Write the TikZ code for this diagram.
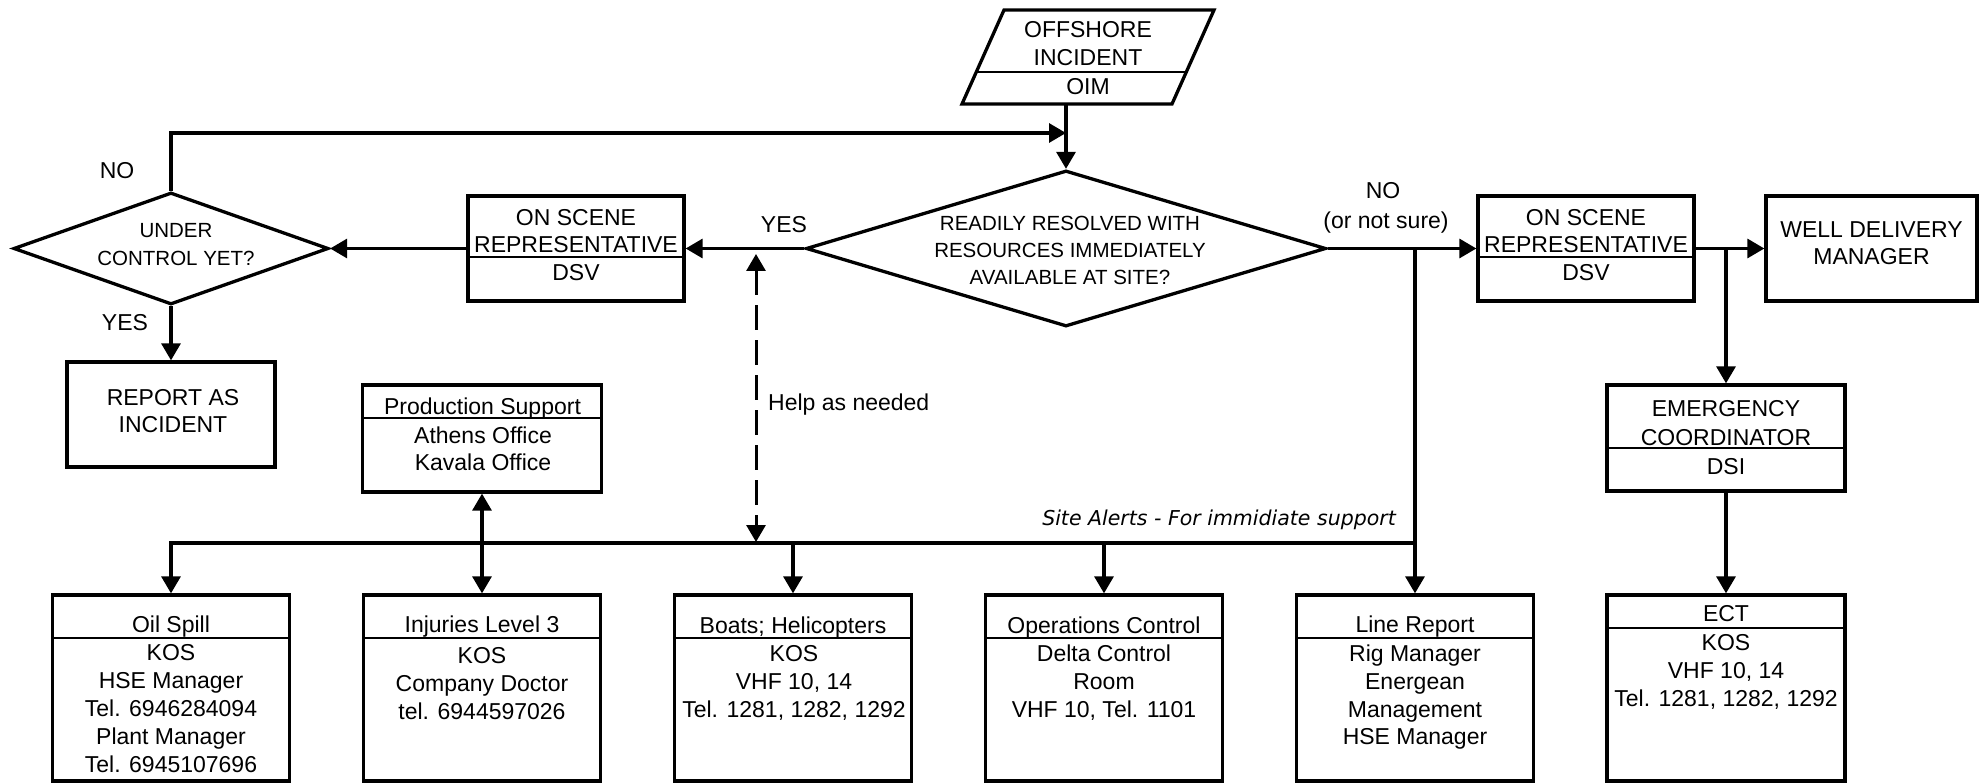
\documentclass[tikz,border=0pt]{standalone}
\usepackage{fontspec}
\setmainfont{Liberation Sans}
\newfontfamily\notefont{DejaVu Sans}
\usetikzlibrary{arrows.meta,shapes.geometric}

\begin{document}
\begin{tikzpicture}[x=1pt, y=-1pt,
  frame/.style={draw, line width=3.3pt, inner sep=0pt, line join=miter},
  boxshape/.style 2 args={frame, rectangle, minimum width=#1, minimum height=#2},
  decision/.style 2 args={frame, diamond, minimum width=#1, minimum height=#2},
  divider/.style={line width=2pt},
  txt/.style={inner sep=0pt, align=center, anchor=north, font=\fontsize{23}{#1}\selectfont},
  txt/.default=27,
  dtxt/.style={inner sep=0pt, align=center, anchor=north, font=\fontsize{20.5}{#1}\selectfont},
  dtxt/.default=27,
  lbl/.style={inner sep=0pt, anchor=base, font=\fontsize{23}{27}\selectfont},
  tip/.style={},
  arr/.style={line width=3.2pt, -{Triangle[length=17pt,width=19pt]}},
  dblarr/.style={line width=3.2pt, {Triangle[length=17pt,width=19pt]}-{Triangle[length=17pt,width=19pt]}},
  dasharr/.style={line width=3pt, dash pattern=on 25pt off 10pt,
    {Triangle[length=17pt,width=19pt]}-{Triangle[length=17pt,width=19pt]}}
]
\useasboundingbox[fill=white] (0,0) rectangle (1981,783);

% ---- incident parallelogram ----
\draw[line width=3.3pt, line join=miter] (1004,10) -- (1214,10) -- (1172,104) -- (962,104) -- cycle;
\draw[divider] (976,72) -- (1186,72);
\node[txt=28] (inc-a) at (1088,20.8) {OFFSHORE\\INCIDENT};
\node[txt] (inc-b) at (1088,77.8) {OIM};
\coordinate (inc-out) at (1066,104);

% ---- decisions ----
\node[decision={315}{112}] (ucd) at (171,248.5) {};
\node[dtxt=28] (ucd-t) at (176,222.7) {UNDER\\CONTROL YET?};
\node[decision={520}{156}] (mdia) at (1066,248.5) {};
\node[dtxt] (mdia-t) at (1070,215.7) {READILY RESOLVED WITH\\RESOURCES IMMEDIATELY\\AVAILABLE AT SITE?};

% ---- top row boxes ----
\node[boxshape={216}{105}] (osl) at (576,248.5) {};
\draw[divider] (468,257) -- (684,257);
\node[txt] (osl-a) at (576,208.8) {ON SCENE\\REPRESENTATIVE};
\node[txt] (osl-b) at (576,263.8) {DSV};

\node[boxshape={216}{105}] (osr) at (1586,248.5) {};
\draw[divider] (1478,257) -- (1694,257);
\node[txt] (osr-a) at (1586,208.8) {ON SCENE\\REPRESENTATIVE};
\node[txt] (osr-b) at (1586,263.8) {DSV};

\node[boxshape={211}{105}] (wdm) at (1871.5,248.5) {};
\node[txt] (wdm-t) at (1871.5,221.8) {WELL DELIVERY\\MANAGER};

% ---- middle row boxes ----
\node[boxshape={208}{105}] (rep) at (171,414.5) {};
\node[txt] (rep-t) at (173,388.8) {REPORT AS\\INCIDENT};

\node[boxshape={239}{107}] (ps) at (482,438.5) {};
\draw[divider] (362.5,418) -- (601.5,418);
\node[txt] (ps-a) at (482.5,397.3) {Production Support};
\node[txt] (ps-b) at (483,426.8) {Athens Office\\Kavala Office};

\node[boxshape={238}{106}] (ec) at (1726,438) {};
\draw[divider] (1607,448) -- (1845,448);
\node[txt=29] (ec-a) at (1726,399.8) {EMERGENCY\\COORDINATOR};
\node[txt] (ec-b) at (1726,457.8) {DSI};

% ---- bottom row boxes ----
\node[boxshape={237}{186}] (oil)   at (171,688)  {};
\node[boxshape={237}{186}] (inj)   at (482,688)  {};
\node[boxshape={237}{186}] (boats) at (793,688)  {};
\node[boxshape={237}{186}] (ops)   at (1104,688) {};
\node[boxshape={237}{186}] (line)  at (1415,688) {};
\node[boxshape={238}{186}] (ect)   at (1726,688) {};
\foreach \c in {171,482,793,1104,1415}
  \draw[divider] (\c-118.5,638) -- (\c+118.5,638);
\draw[divider] (1607,628) -- (1845,628);

\node[txt] (oil-a) at (171,615.8) {Oil Spill};
\node[txt=28] (oil-b) at (171,643.8) {KOS\\HSE Manager\\Tel. 6946284094\\Plant Manager\\Tel. 6945107696};
\node[txt] (inj-a) at (482,615.8) {Injuries Level 3};
\node[txt=28] (inj-b) at (482,646.8) {KOS\\Company Doctor\\tel. 6944597026};
\node[txt] (boats-a) at (793,616.8) {Boats; Helicopters};
\node[txt=28] (boats-b) at (794,644.8) {KOS\\VHF 10, 14\\Tel. 1281, 1282, 1292};
\node[txt] (ops-a) at (1104,616.8) {Operations Control};
\node[txt=28] (ops-b) at (1104,644.8) {Delta Control\\Room\\VHF 10, Tel. 1101};
\node[txt] (line-a) at (1415,615.8) {Line Report};
\node[txt=27.7] (line-b) at (1415,644.8) {Rig Manager\\Energean\\Management\\HSE Manager};
\node[txt] (ect-a) at (1726,604.8) {ECT};
\node[txt=28] (ect-b) at (1726,633.8) {KOS\\VHF 10, 14\\Tel. 1281, 1282, 1292};

% ---- labels ----
\node[lbl] (no-l) at (117,178.2) {NO};
\node[lbl] (yes-l) at (125,330.2) {YES};
\node[lbl] (yes-m) at (784,232.2) {YES};
\node[lbl] (no-r) at (1383,198.4) {NO};
\node[lbl] (nsure) at (1386,228.8) {(or not sure)};
\node[lbl, anchor=base west] (help) at (768,410.7) {Help as needed};
\node[inner sep=0pt, anchor=base east, font=\notefont\itshape\fontsize{20.5}{24}\selectfont]
  (alerts) at (1396,525.5) {Site Alerts - For immidiate support};

% ---- connectors ----
\coordinate (ret) at (1066,133);
\coordinate (bus) at (0,543);
\coordinate (help-a) at (756,254);
\coordinate (help-b) at (756,542);

\draw[arr] (inc-out) -- (mdia.north);
\draw[arr] (ucd.north) |- (ret);
\draw[arr] (mdia.west) -- (osl.east);
\draw[arr] (osl.west) -- (ucd.east);
\draw[arr] (ucd.south) -- (rep.north);
\draw[arr] (mdia.east) -- (osr.west);
\draw[arr] (osr.east) -- (wdm.west);
\draw[arr] (wdm.west -| ec.north) -- (ec.north);
\draw[arr] (ec.south) -- (ect.north);
\draw[arr] (mdia.east -| line.north) -- (line.north);
\draw[arr] (line.north |- bus) -| (oil.north);
\draw[arr] (boats.north |- bus) -- (boats.north);
\draw[arr] (ops.north |- bus) -- (ops.north);
\draw[dblarr] (ps.south) -- (inj.north);
\draw[dasharr] (help-a) -- (help-b);
\end{tikzpicture}
\end{document}
